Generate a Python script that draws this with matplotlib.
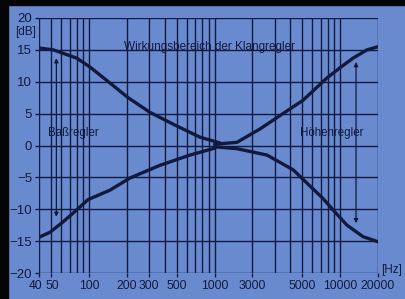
import matplotlib
matplotlib.use("Agg")
import matplotlib.pyplot as plt
from matplotlib.patches import Rectangle
import matplotlib.transforms as mtransforms

# ---- data ----
bass_up_f = [40, 52, 80, 102, 147, 205, 306, 484, 766, 1105]
bass_up_db = [15.3, 15.0, 13.7, 12.3, 9.8, 7.5, 5.2, 3.2, 1.3, 0.4]
bass_lo_f = [40, 49, 62, 80, 98, 147, 212, 368, 637, 1007]
bass_lo_db = [-14.4, -13.6, -12.0, -10.1, -8.5, -7.0, -5.1, -3.1, -1.5, -0.4]
treb_up_f = [1000, 1507, 2300, 5060, 7850, 9970, 12650, 16330, 20000]
treb_up_db = [0.2, 0.5, 2.6, 7.1, 10.6, 12.2, 13.7, 15.0, 15.5]
treb_lo_f = [1000, 1507, 2613, 4210, 7290, 8770, 11330, 15200, 20000]
treb_lo_db = [-0.2, -0.5, -1.5, -3.8, -8.3, -10.1, -12.5, -14.3, -15.1]

arrow_f = [55, 13370]
arrow_top = [13.7, 13.1]
arrow_bot = [-11.2, -12.2]

xtick_pos = [40, 50, 100, 200, 300, 500, 1000, 2000, 5000, 10000, 20000]
xtick_lab = ["40", "50", "100", "200", "300", "500", "1000", "3000", "5000", "10000", "20000"]
ytick_pos = [-20, -15, -10, -5, 0, 5, 10, 15, 20]
ytick_lab = ["\u221220", "\u221215", "\u221210", "\u22125", "0", "5", "10", "15", "20"]
xgrid = ([40, 50, 60, 70, 80, 90, 100] + [200, 300, 400, 500, 600, 700, 800, 900, 1000]
         + [2000, 3000, 4000, 5000, 6000, 7000, 8000, 9000, 10000, 20000])

title = "Wirkungsbereich der Klangregler"
bass_label = "Baßregler"
treb_label = "Höhenregler"

# ---- style ----
BG = "#6a8ad0"
INK = "#111a3c"
plt.rcParams['font.family'] = ['Liberation Sans', 'DejaVu Sans']

fig = plt.figure(figsize=(4.05, 2.99), dpi=100, facecolor=BG)
ax = fig.add_axes([39/405, 1-273/299, (378-39)/405, (273-18)/299])
ax.set_facecolor(BG)
ax.set_xscale('log')
ax.set_xlim(40, 20000)
ax.set_ylim(-20, 20)

for f in xgrid:
    ax.axvline(f, color=INK, lw=1.0, zorder=1)
for y in ytick_pos:
    ax.axhline(y, color=INK, lw=1.0, zorder=1)
for s in ax.spines.values():
    s.set_visible(False)

ax.set_xticks(xtick_pos)
ax.set_xticklabels(xtick_lab)
ax.xaxis.set_minor_locator(matplotlib.ticker.NullLocator())
ax.set_yticks(ytick_pos)
ax.set_yticklabels(ytick_lab)
ax.tick_params(axis='both', colors=INK, labelcolor=INK, length=3, width=1.0,
               labelsize=9.5, pad=2)
xlabs = ax.get_xticklabels()
for lab in xlabs:
    lab.set_fontsize(8.8)
# nudge the crowded first two labels apart, as in the reference
off_l = mtransforms.ScaledTranslation(-3/100, 0, fig.dpi_scale_trans)
off_r = mtransforms.ScaledTranslation(1.5/100, 0, fig.dpi_scale_trans)
xlabs[0].set_transform(xlabs[0].get_transform() + off_l)
xlabs[1].set_transform(xlabs[1].get_transform() + off_r)

lw = 2.4
ax.plot(bass_up_f, bass_up_db, color=INK, lw=lw, solid_capstyle='round', zorder=3)
ax.plot(bass_lo_f, bass_lo_db, color=INK, lw=lw, solid_capstyle='round', zorder=3)
ax.plot(treb_up_f, treb_up_db, color=INK, lw=lw, solid_capstyle='round', zorder=3)
ax.plot(treb_lo_f, treb_lo_db, color=INK, lw=lw, solid_capstyle='round', zorder=3)

for f, t, b in zip(arrow_f, arrow_top, arrow_bot):
    ax.annotate("", xy=(f, t), xytext=(f, b),
                arrowprops=dict(arrowstyle="<|-|>", color=INK, lw=0.9,
                                mutation_scale=6, shrinkA=0, shrinkB=0), zorder=4)

fig.text(209/405, 1-47/299, title, ha='center', va='center', color=INK, fontsize=8.5)
fig.text(48/405, 1-133/299, bass_label, ha='left', va='center', color=INK, fontsize=8.3)
fig.text(300/405, 1-133/299, treb_label, ha='left', va='center', color=INK, fontsize=8.3)
fig.text(36/405, 1-32/299, "[dB]", ha='right', va='center', color=INK, fontsize=8.5)
fig.text(381/405, 1-270/299, "[Hz]", ha='left', va='center', color=INK, fontsize=8.5)

# dark frame at top and left edges of the photo
fig.patches.append(Rectangle((0, 1-5/299), 1, 5/299, transform=fig.transFigure,
                             color="#050508", zorder=10))
fig.patches.append(Rectangle((0, 0), 8/405, 1, transform=fig.transFigure,
                             color="#050508", zorder=10))

fig.savefig("out.png", dpi=100, facecolor=BG)
